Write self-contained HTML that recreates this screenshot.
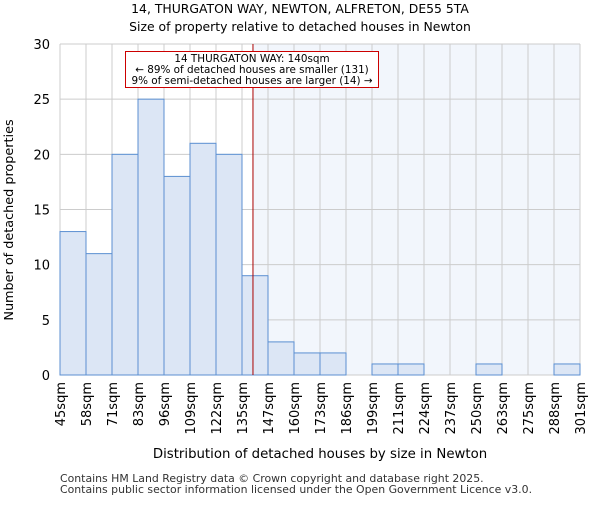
<!DOCTYPE html>
<html><head><meta charset="utf-8"><style>body{margin:0;background:#fff}svg{font-family:"DejaVu Sans","Liberation Sans",sans-serif}</style></head>
<body>
<svg id="c" width="600" height="500" xmlns="http://www.w3.org/2000/svg">
<text x="300" y="13" text-anchor="middle" font-size="12.4">14, THURGATON WAY, NEWTON, ALFRETON, DE55 5TA</text>
<text x="300" y="31" text-anchor="middle" font-size="12.4">Size of property relative to detached houses in Newton</text>
<g id="plot"></g>
<text x="320" y="458" text-anchor="middle" font-size="13.3">Distribution of detached houses by size in Newton</text>
<text transform="translate(13,220) rotate(-90)" text-anchor="middle" font-size="12.8">Number of detached properties</text>
<text x="60" y="482" font-size="10.9" fill="#333">Contains HM Land Registry data © Crown copyright and database right 2025.</text>
<text x="60" y="493" font-size="10.9" fill="#333">Contains public sector information licensed under the Open Government Licence v3.0.</text>
</svg>
<script>
const categories=["45sqm","58sqm","71sqm","83sqm","96sqm","109sqm","122sqm","135sqm","147sqm","160sqm","173sqm","186sqm","199sqm","211sqm","224sqm","237sqm","250sqm","263sqm","275sqm","288sqm","301sqm"];
const counts=[13,11,20,25,18,21,20,9,3,2,2,0,1,1,0,0,1,0,0,1];
const yTicks=[0,5,10,15,20,25,30];
const binStart=45, binWidth=12.8;
const propertySize=140;
const L=60,R=580,T=44,B=375,yMax=30;
const n=counts.length, bw=(R-L)/n;
const xs=i=>L+i*bw;
const xv=v=>L+(v-binStart)/binWidth*bw;
const ys=v=>B-(v/yMax)*(B-T);
const NS="http://www.w3.org/2000/svg";
const g=document.getElementById('plot');
function mk(t,a){const e=document.createElementNS(NS,t);for(const k in a)e.setAttribute(k,a[k]);g.appendChild(e);return e;}
const lx=xv(propertySize);
let e=mk('rect',{x:lx,y:T,width:R-lx,height:B-T,fill:'#f2f6fc'});


yTicks.forEach(t=>{
 let l=mk('line',{x1:L,x2:R,y1:ys(t),y2:ys(t),stroke:'#ccc'});
 
 
 let tx=mk('text',{x:L-10,y:ys(t)+5,'text-anchor':'end','font-size':13});
 tx.textContent=t;
 
 
});
categories.forEach((c,i)=>{
 let l=mk('line',{x1:xs(i),x2:xs(i),y1:T,y2:B,stroke:'#ccc'});
 
 
 let tx=mk('text',{transform:`translate(${xs(i)+5},382) rotate(-90)`,'text-anchor':'end','font-size':13});
 tx.textContent=c;
 
 
});
counts.forEach((v,i)=>{
 if(!v)return;
 let r=mk('rect',{x:xs(i),y:ys(v),width:bw,height:B-ys(v),fill:'#dce6f5',stroke:'#5b8fd1','stroke-width':1});
 
 
});
e=mk('line',{x1:lx,x2:lx,y1:T,y2:B,stroke:'#a00','stroke-width':1});


e=mk('rect',{x:125.5,y:51.5,width:253,height:36,fill:'#fff',stroke:'#c00'});


[["14 THURGATON WAY: 140sqm",62],["← 89% of detached houses are smaller (131)",73],["9% of semi-detached houses are larger (14) →",84]].forEach(([s,y])=>{
 let t=mk('text',{x:252,y:y,'text-anchor':'middle','font-size':10.4});
 t.textContent=s;
 
 
});
</script>
</body></html>
